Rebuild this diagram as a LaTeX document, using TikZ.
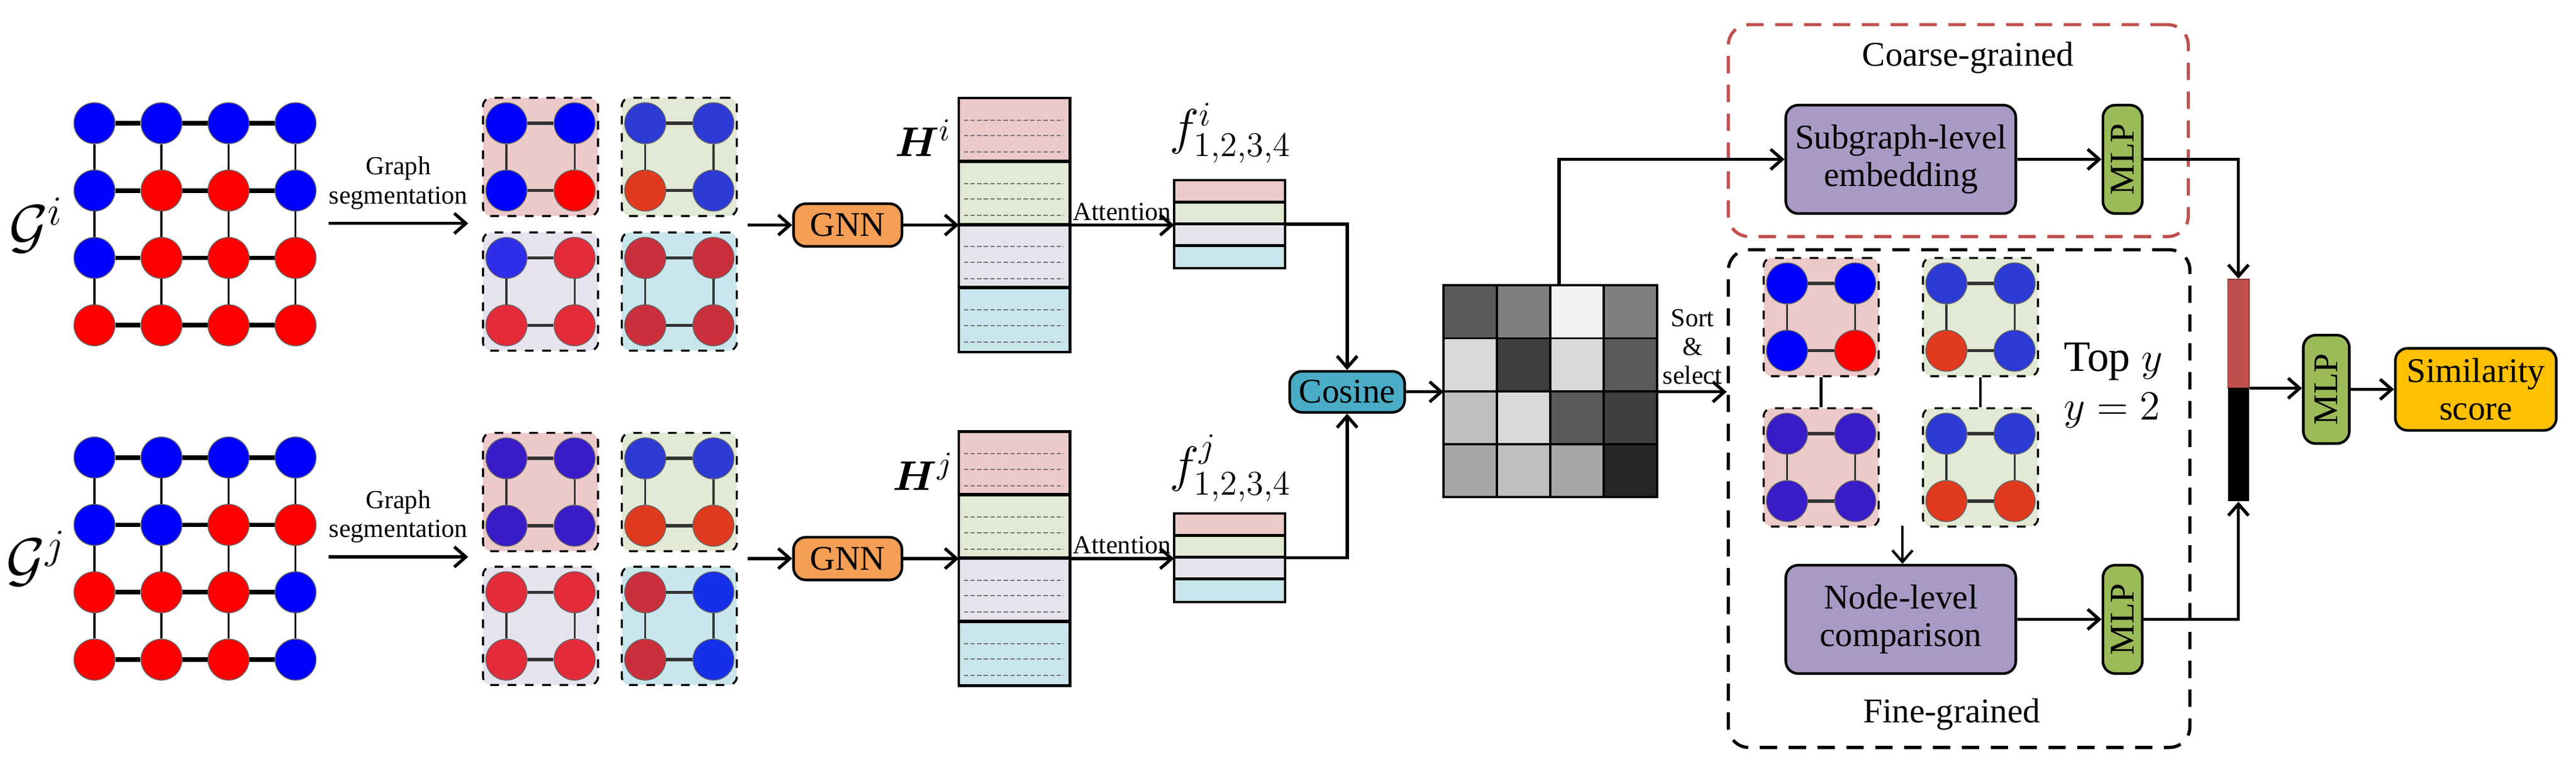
\documentclass[tikz,border=0pt]{standalone}
\usepackage{fontspec}
\setmainfont{Liberation Serif}
\usepackage{amsmath}
\usetikzlibrary{calc,arrows.meta}
\definecolor{cB}{HTML}{0000FF}
\definecolor{cR}{HTML}{FF0000}
\definecolor{cBt}{HTML}{2B3BD4}
\definecolor{cO}{HTML}{E03A1E}
\definecolor{cL}{HTML}{2E2EE8}
\definecolor{cLR}{HTML}{E32B3A}
\definecolor{cDR}{HTML}{C9303B}
\definecolor{cP}{HTML}{3A1BC8}
\definecolor{cBB}{HTML}{1530E8}
\definecolor{bgP}{HTML}{EDCACA}
\definecolor{bgG}{HTML}{E2E9D4}
\definecolor{bgL}{HTML}{E6E3EE}
\definecolor{bgC}{HTML}{C9E6ED}
\definecolor{gnnC}{HTML}{F59E55}
\definecolor{cosC}{HTML}{4BACC6}
\definecolor{purC}{HTML}{A89AC4}
\definecolor{mlpC}{HTML}{9BBB59}
\definecolor{simC}{HTML}{FFC000}
\definecolor{redD}{HTML}{C0504D}
\tikzset{
  gn/.style={circle,minimum size=0.5cm,inner sep=0pt,draw=black!60,line width=0.3pt},
  hedge/.style={line width=1.6pt},
  vedge/.style={line width=0.7pt},
  sedge/.style={draw=black!80,line width=1.1pt},
  sbox/.style={draw,dashed,line width=0.7pt,rounded corners=0.1cm,minimum width=1.4cm,minimum height=1.44cm,inner sep=0pt},
  arr/.style={-{Straight Barb[length=4pt,width=7pt]},line width=1.1pt},
  rbox/.style={draw,line width=0.9pt,rounded corners=0.15cm,inner sep=0pt,font=\fontsize{12}{13}\selectfont,align=center},
  mlp/.style={rbox,fill=mlpC,minimum width=0.48cm,minimum height=1.32cm},
  mlpt/.style={rotate=90,font=\fontsize{12}{12}\selectfont},
  small/.style={font=\fontsize{9}{10}\selectfont,align=center},
}
\newcommand{\subg}[8]{%
  \node[sbox,fill=#4] (#1) at (#2,#3) {};
  \node[gn,fill=#5] (#1a) at ($(#1)+(-20.75,-20.5)$) {};
  \node[gn,fill=#6] (#1b) at ($(#1)+(20.75,-20.5)$) {};
  \node[gn,fill=#7] (#1c) at ($(#1)+(-20.75,20.5)$) {};
  \node[gn,fill=#8] (#1d) at ($(#1)+(20.75,20.5)$) {};
  \draw[sedge] (#1a)--(#1b) (#1c)--(#1d);
  \draw[vedge,draw=black!80] (#1a)--(#1c) (#1b)--(#1d);
}
\newcommand{\hcol}[3]{% name, cx, cy
  \node[minimum width=1.34cm,minimum height=3.08cm,inner sep=0pt] (#1) at (#2,#3) {};
  \foreach \cc [count=\k from 0] in {bgP,bgG,bgL,bgC}{
    \fill[\cc] ($(#1.north west)+(0,38.5*\k)$) rectangle ++(67,38.5);
    \foreach \o in {13.5,23,33}
      \draw[black!55,dashed,line width=0.4pt,dash pattern=on 1.5pt off 0.8pt] ($(#1.north west)+(3,38.5*\k+\o)$) -- ++(61,0);
  }
  \draw[line width=0.9pt] (#1.north west) rectangle (#1.south east);
  \foreach \k in {1,2,3} \draw[line width=1.2pt] ($(#1.north west)+(0,38.5*\k)$) -- ++(67,0);
}
\newcommand{\fcol}[3]{%
  \node[minimum width=1.34cm,minimum height=1.06cm,inner sep=0pt] (#1) at (#2,#3) {};
  \foreach \cc [count=\k from 0] in {bgP,bgG,bgL,bgC}
    \fill[\cc] ($(#1.north west)+(0,13.25*\k)$) rectangle ++(67,13.25);
  \draw[line width=0.8pt] (#1.north west) rectangle (#1.south east);
  \foreach \k in {1,2,3} \draw[line width=1pt] ($(#1.north west)+(0,13.25*\k)$) -- ++(67,0);
}
\begin{document}
\begin{tikzpicture}[x=0.02cm,y=-0.02cm]
\useasboundingbox (0,0) rectangle (1568,465);
% ---------- input graphs
\foreach \g/\yy/\cols in {i/0/{cB,cB,cB,cB,cB,cR,cR,cB,cB,cR,cR,cR,cR,cR,cR,cR},j/1/{cB,cB,cB,cB,cB,cB,cR,cR,cR,cR,cR,cB,cR,cR,cR,cB}}{
  \foreach \c [count=\k from 0] in \cols {
    \pgfmathtruncatemacro{\r}{int(\k/4)}
    \pgfmathtruncatemacro{\q}{mod(\k,4)}
    \pgfmathsetmacro{\xx}{57.5+40.8*\q}
    \pgfmathsetmacro{\yv}{75+41*\r+203.5*\yy}
    \node[gn,fill=\c] (g\g\r\q) at (\xx,\yv) {};
  }
  \foreach \r in {0,...,3}{\foreach \q/\qn in {0/1,1/2,2/3}{\draw[hedge] (g\g\r\q)--(g\g\r\qn);}}
  \foreach \q in {0,...,3}{\foreach \r/\rn in {0/1,1/2,2/3}{\draw[vedge] (g\g\r\q)--(g\g\rn\q);}}
}
\node[font=\fontsize{20}{20}\selectfont] (Gi) at (22,137) {$\mathcal{G}^{i}$};
\node[font=\fontsize{20}{20}\selectfont] (Gj) at (22,340) {$\mathcal{G}^{j}$};
% segmentation arrows
\coordinate (sa1) at (200,136); \coordinate (sa2) at (285,136);
\coordinate (sb1) at (200,339); \coordinate (sb2) at (285,339);
\draw[arr] (sa1) -- node[above,small,yshift=1pt]{Graph\\segmentation} (sa2);
\draw[arr] (sb1) -- node[above,small,yshift=1pt]{Graph\\segmentation} (sb2);
% subgraphs
\subg{si1}{329}{95.5}{bgP}{cB}{cB}{cB}{cR}
\subg{si2}{413.5}{95.5}{bgG}{cBt}{cBt}{cO}{cBt}
\subg{si3}{329}{177.5}{bgL}{cL}{cLR}{cLR}{cLR}
\subg{si4}{413.5}{177.5}{bgC}{cDR}{cDR}{cDR}{cDR}
\subg{sj1}{329}{299.5}{bgP}{cP}{cP}{cP}{cP}
\subg{sj2}{413.5}{299.5}{bgG}{cBt}{cBt}{cO}{cO}
\subg{sj3}{329}{381}{bgL}{cLR}{cLR}{cLR}{cLR}
\subg{sj4}{413.5}{381}{bgC}{cDR}{cBB}{cDR}{cBB}
% GNN
\node[rbox,fill=gnnC,minimum width=1.32cm,minimum height=0.52cm] (gnni) at (516,137) {GNN};
\node[rbox,fill=gnnC,minimum width=1.32cm,minimum height=0.52cm] (gnnj) at (516,340) {GNN};
\coordinate (gi0) at (455,137); \coordinate (gj0) at (455,340);
\draw[arr] (gi0) -- (gnni.west);
\draw[arr] (gj0) -- (gnnj.west);
% H
\hcol{Hi}{617.5}{137}
\hcol{Hj}{617.5}{340}
\node[font=\fontsize{15}{15}\selectfont] (Hil) at (562,84) {$\boldsymbol{H}^{i}$};
\node[font=\fontsize{15}{15}\selectfont] (Hjl) at (562,287) {$\boldsymbol{H}^{j}$};
\draw[arr] (gnni.east) -- (Hi.west);
\draw[arr] (gnnj.east) -- (Hj.west);
% f
\fcol{fi}{748.5}{136.5}
\fcol{fj}{748.5}{339.5}
\node[font=\fontsize{17}{17}\selectfont] (fil) at (749,81) {$f^{i}_{1,2,3,4}$};
\node[font=\fontsize{17}{17}\selectfont] (fjl) at (749,285) {$f^{j}_{1,2,3,4}$};
\draw[arr] (Hi.east) -- node[above,small,inner sep=1pt]{Attention} (Hi.east -| fi.west);
\draw[arr] (Hj.east) -- node[above,small,inner sep=1pt]{Attention} (Hj.east -| fj.west);
% cosine
\node[rbox,fill=cosC,minimum width=1.4cm,minimum height=0.5cm] (cos) at (820,238.5) {Cosine};
\draw[arr] (fi.east) -| (cos.north);
\draw[arr] (fj.east) -| (cos.south);
% matrix
\node[minimum width=2.6cm,minimum height=2.58cm,inner sep=0pt] (mat) at (944,238.5) {};
\foreach \row [count=\r from 0] in {{5A5A5A,7F7F7F,F2F2F2,7F7F7F},{D9D9D9,3F3F3F,D9D9D9,5A5A5A},{BFBFBF,D9D9D9,5A5A5A,3F3F3F},{A6A6A6,BFBFBF,A6A6A6,262626}}{
  \foreach \c [count=\q from 0] in \row {
    \definecolor{tmpc}{HTML}{\c}
    \draw[fill=tmpc,line width=0.8pt] ($(mat.north west)+(32.5*\q,32.25*\r)$) rectangle ++(32.5,32.25);
  }
}
\draw[arr] (cos.east) -- (mat.west);
% coarse
\node[draw=redD,dashed,line width=1.1pt,dash pattern=on 6pt off 4pt,rounded corners=0.25cm,minimum width=5.6cm,minimum height=2.58cm] (coarse) at (1192,79.5) {};
\node[font=\fontsize{12}{13}\selectfont] (coarsel) at (1198,35) {Coarse-grained};
\node[rbox,fill=purC,minimum width=2.8cm,minimum height=1.32cm] (sub) at (1157,97) {Subgraph-level\\embedding};
\node[mlp] (mlp1) at (1292,97) {}; \node[mlpt] at (mlp1) {MLP};
\draw[arr] ($(mat.north)+(5,0)$) |- (sub.west);
\draw[arr] (sub.east) -- (mlp1.west);
% fine
\node[draw,dashed,line width=1.1pt,dash pattern=on 6pt off 4pt,rounded corners=0.25cm,minimum width=5.62cm,minimum height=6.06cm] (fine) at (1192.5,303.5) {};
\node[font=\fontsize{12}{13}\selectfont] (finel) at (1188,435) {Fine-grained};
\draw[arr] (mat.east |- cos.east) -- node[above,small,inner sep=2pt]{Sort\\\&\\select} (fine.west |- cos.east);
\subg{fp1}{1108.5}{193}{bgP}{cB}{cB}{cB}{cR}
\subg{fp2}{1108.5}{284.5}{bgP}{cP}{cP}{cP}{cP}
\subg{fg1}{1205.5}{193}{bgG}{cBt}{cBt}{cO}{cBt}
\subg{fg2}{1205.5}{284.5}{bgG}{cBt}{cBt}{cO}{cO}
\draw[line width=0.9pt] (fp1.south) -- (fp2.north);
\draw[line width=0.9pt] (fg1.south) -- (fg2.north);
\node[font=\fontsize{15}{15}\selectfont,anchor=west] (topy) at (1250,220) {Top $y$};
\node[font=\fontsize{15}{15}\selectfont,anchor=west] (y2) at (1250,250) {$y=2$};
\node[rbox,fill=purC,minimum width=2.8cm,minimum height=1.32cm] (nl) at (1157,377) {Node-level\\comparison};
\node[mlp] (mlp2) at (1292,377) {}; \node[mlpt] at (mlp2) {MLP};
\coordinate (fa) at (1158,320);
\draw[arr,line width=0.9pt] (fa) -- (fa |- nl.north);
\draw[arr] (nl.east) -- (mlp2.west);
% bar
\node[fill=redD,draw=redD!70!black,line width=0.4pt,minimum width=0.26cm,minimum height=1.32cm,inner sep=0pt] (barT) at (1362.5,203) {};
\node[fill=black,minimum width=0.26cm,minimum height=1.38cm,inner sep=0pt] (barB) at (1362.5,270.5) {};
\draw[arr] (mlp1.east) -| (barT.north);
\draw[arr] (mlp2.east) -| (barB.south);
\node[mlp,minimum width=0.56cm] (mlp3) at (1416,237) {}; \node[mlpt] at (mlp3) {MLP};
\node[rbox,fill=simC,minimum width=1.96cm,minimum height=1.0cm] (sim) at (1507,237) {Similarity\\score};
\draw[arr] (barT.south east) -- (barT.south east -| mlp3.west);
\draw[arr] (mlp3.east) -- (sim.west);
\end{tikzpicture}
\end{document}
